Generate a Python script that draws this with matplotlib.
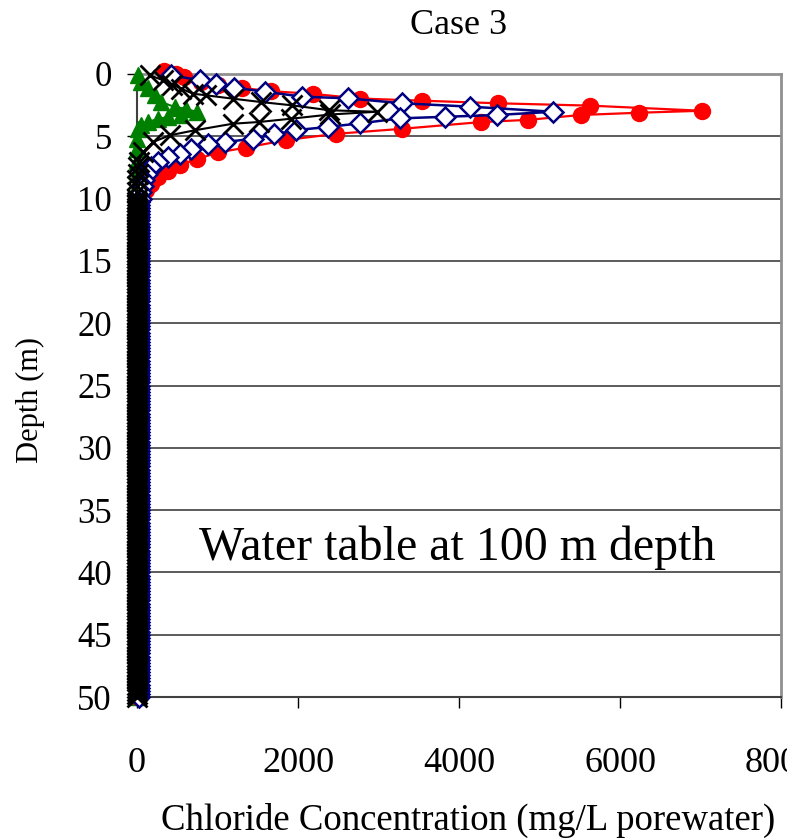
import matplotlib
matplotlib.use('Agg')
import matplotlib.pyplot as plt

plt.rcParams['font.family'] = ['Liberation Serif', 'DejaVu Serif']

# profiles: depth (m) and chloride (mg/L porewater)
red_depth = [-0.25, 0.0, 0.24, 0.62, 0.88, 1.12, 1.38, 1.6, 1.97, 2.14, 2.35, 2.54, 2.95,
             3.11, 3.29, 3.68, 3.86, 4.4, 4.8, 5.3, 5.9, 6.3, 6.85, 7.3, 7.8, 8.27, 8.8,
             9.3, 9.8, 10.3]
red_conc = [340, 490, 590, 790, 1000, 1300, 1670, 2190, 2770, 3540, 4480, 5630, 7020,
            6230, 5510, 4860, 4270, 3290, 2475, 1850, 1360, 1000, 740, 530, 385, 260, 180,
            110, 60, 30]

blue_depth = [0.1, 0.5, 0.8, 1.1, 1.42, 1.82, 1.95, 2.35, 2.62, 3.03,
              3.29, 3.43, 3.56, 3.96, 4.25, 4.5, 4.85, 5.2, 5.46, 5.6, 6.0, 6.4, 6.66,
              7.06, 7.5, 8.0, 8.5, 9.0, 9.5, 10.0]
blue_conc = [420, 780, 980, 1210, 1590, 2050, 2620, 3290, 4140, 5170,
             4470, 3830, 3270, 2770, 2370, 1980, 1700, 1440, 1090, 880, 674, 530, 385,
             260, 180, 120, 90, 70, 55, 45]

black_depth = [0.1, 0.5, 0.85, 1.18, 1.58, 1.71, 1.98, 2.25, 2.51, 2.91, 3.03,
               3.25, 3.59, 3.85, 3.99, 4.52, 4.92, 5.46, 6.26, 7.06, 7.5, 8.0, 8.5,
               9.0, 9.5, 10.0]
black_conc = [158, 323, 440, 550, 695, 860, 1190, 1540, 1920, 2390, 2980,
              2400, 1910, 1520, 1190, 716, 406, 199, 75, 20, 10, 8, 6, 5, 5, 5]

green_depth = [0.1, 0.64, 1.1, 1.7, 2.25, 2.65, 2.78, 3.05,
               3.3, 3.45, 3.6, 3.85, 4.1, 4.4, 5.2, 6.0, 7.0, 8.0, 9.0, 10.0]
green_conc = [12, 53, 137, 220, 300, 470, 610, 740,
              550, 385, 260, 137, 53, 12, 0, 0, 0, 0, 0, 0]

# model nodes below 10 m, where every profile sits at background
deep_depth = [10.25, 10.5, 10.75, 11.0, 11.25, 11.5, 11.75, 12.0, 12.25, 12.5, 12.75, 13.0,
              13.25, 13.5, 13.75, 14.0, 14.25, 14.5, 14.75, 15.0, 15.25, 15.5, 15.75, 16.0,
              16.25, 16.5, 16.75, 17.0, 17.25, 17.5, 17.75, 18.0, 18.25, 18.5, 18.75, 19.0,
              19.25, 19.5, 19.75, 20.0, 20.25, 20.5, 20.75, 21.0, 21.25, 21.5, 21.75, 22.0,
              22.25, 22.5, 22.75, 23.0, 23.25, 23.5, 23.75, 24.0, 24.25, 24.5, 24.75, 25.0,
              25.25, 25.5, 25.75, 26.0, 26.25, 26.5, 26.75, 27.0, 27.25, 27.5, 27.75, 28.0,
              28.25, 28.5, 28.75, 29.0, 29.25, 29.5, 29.75, 30.0, 30.25, 30.5, 30.75, 31.0,
              31.25, 31.5, 31.75, 32.0, 32.25, 32.5, 32.75, 33.0, 33.25, 33.5, 33.75, 34.0,
              34.25, 34.5, 34.75, 35.0, 35.25, 35.5, 35.75, 36.0, 36.25, 36.5, 36.75, 37.0,
              37.25, 37.5, 37.75, 38.0, 38.25, 38.5, 38.75, 39.0, 39.25, 39.5, 39.75, 40.0,
              40.25, 40.5, 40.75, 41.0, 41.25, 41.5, 41.75, 42.0, 42.25, 42.5, 42.75, 43.0,
              43.25, 43.5, 43.75, 44.0, 44.25, 44.5, 44.75, 45.0, 45.25, 45.5, 45.75, 46.0,
              46.25, 46.5, 46.75, 47.0, 47.25, 47.5, 47.75, 48.0, 48.25, 48.5, 48.75, 49.0,
              49.25, 49.5, 49.75, 50.0]
red_bg, blue_bg, black_bg, green_bg = 15, 30, 5, 0

x_ticks = [0, 2000, 4000, 6000, 8000]
y_ticks = [0, 5, 10, 15, 20, 25, 30, 35, 40, 45, 50]

fig = plt.figure(figsize=(7.87, 8.40), dpi=100)
ax = fig.add_axes([137 / 787, 1 - 697 / 840, 644 / 787, 623 / 840])

# drawing order as in the original: green under, black on top
ax.plot(green_conc + [green_bg] * len(deep_depth), green_depth + deep_depth,
        color='#008000', lw=1.5, marker='^', ms=11, mec='#008000', mfc='#008000',
        clip_on=False, zorder=3)
ax.plot(red_conc + [red_bg] * len(deep_depth), red_depth + deep_depth,
        color='#ff0000', lw=1.6, marker='o', ms=11.5, mec='#ff0000', mfc='#ff0000',
        clip_on=False, zorder=4)
ax.plot(blue_conc + [blue_bg] * len(deep_depth), blue_depth + deep_depth,
        color='#000080', lw=1.8, marker='D', ms=10, mec='#000080', mfc='white',
        mew=1.8, clip_on=False, zorder=5)
ax.plot(black_conc + [black_bg] * len(deep_depth), black_depth + deep_depth,
        color='black', lw=1.5, marker='x', ms=14.5, mec='black', mew=2,
        clip_on=False, zorder=6)

ax.set_xlim(0, 8000)
ax.set_ylim(50, 0)
ax.set_xticks(x_ticks)
ax.set_yticks(y_ticks)
ax.tick_params(axis='x', labelsize=26, length=8, width=1, pad=28, direction='out')
ax.tick_params(axis='y', labelsize=25, length=7, width=1, pad=11, direction='out')
ax.yaxis.grid(True, color='#404040', lw=1.2)
ax.set_axisbelow(True)

for side in ['top', 'right']:
    ax.spines[side].set_color('#909090')
    ax.spines[side].set_linewidth(2)
for side in ['left', 'bottom']:
    ax.spines[side].set_color('#404040')
    ax.spines[side].set_linewidth(1.5)

ax.set_xlabel('Chloride Concentration (mg/L porewater)', fontsize=26.5)
ax.xaxis.set_label_coords(0.514, (697 - 820) / 623)
ax.xaxis.label.set_va('center')
ax.set_ylabel('Depth (m)', fontsize=22)
ax.yaxis.set_label_coords((30 - 137) / 644, 0.476)
ax.yaxis.label.set_va('center')

ax.text(0.5, 1 + (74 - 25) / 623, 'Case 3', transform=ax.transAxes,
        ha='center', va='center', fontsize=26)
ax.text(3975, 38, 'Water table at 100 m depth', ha='center', va='center', fontsize=34.5)

fig.savefig('out.png', dpi=100, facecolor='white')
